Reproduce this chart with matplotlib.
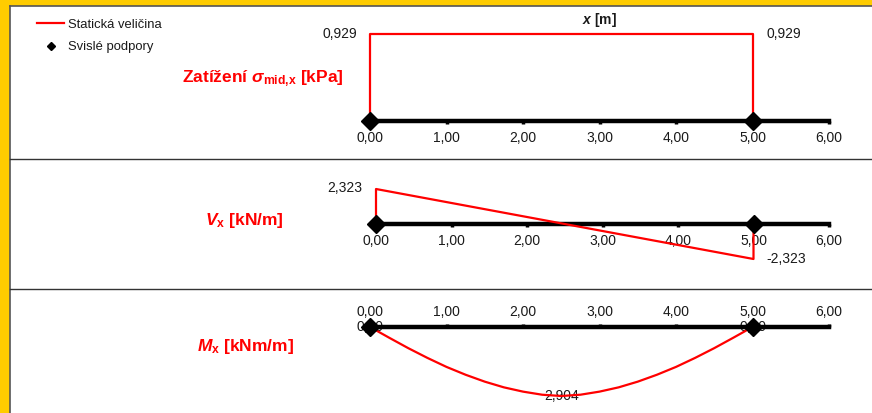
import matplotlib
matplotlib.use("Agg")
import matplotlib.pyplot as plt
from matplotlib.lines import Line2D
from matplotlib.patches import Rectangle
from matplotlib.ticker import FuncFormatter

plt.rcParams['font.family'] = ['Liberation Sans', 'DejaVu Sans']
plt.rcParams['mathtext.fontset'] = 'custom'
plt.rcParams['mathtext.rm'] = 'Liberation Sans:bold'
plt.rcParams['mathtext.it'] = 'Liberation Sans:italic:bold'
plt.rcParams['mathtext.bf'] = 'Liberation Sans:bold'

# ---------------- data ----------------
axis_ticks = [0, 1, 2, 3, 4, 5, 6]
supports_x = [0.0, 5.0]
support_y = [0.0, 0.0]

load_x = [0.0, 0.0, 5.0, 5.0]
load_y = [0.0, 0.929, 0.929, 0.0]

shear_x = [0.0, 0.0, 5.0, 5.0]
shear_y = [0.0, 2.323, -2.323, 0.0]

moment_x = [0.0, 0.25, 0.5, 0.75, 1.0, 1.25, 1.5, 1.75, 2.0, 2.25, 2.5,
            2.75, 3.0, 3.25, 3.5, 3.75, 4.0, 4.25, 4.5, 4.75, 5.0]
moment_y = [0.0, 0.45, 0.89, 1.30, 1.68, 2.01, 2.30, 2.54, 2.72, 2.85, 2.904,
            2.85, 2.72, 2.54, 2.30, 2.01, 1.68, 1.30, 0.89, 0.45, 0.0]

W, H = 872, 413
RED = '#FF0000'
TXT = '#1a1a1a'

fig = plt.figure(figsize=(W / 100, H / 100), dpi=100)
fig.patch.set_facecolor('white')


def fmt(v):
    return f"{v:.2f}".replace('.', ',')


def val(v):
    return f"{v:.3f}".replace('.', ',')


def panel(top, bot, x0px, x6px, y0px, yref_px, yref_val, ticks_top=False, pad=4):
    ax = fig.add_axes([0, 1 - bot / H, 1, (bot - top) / H])
    ax.patch.set_visible(False)
    sx = (x6px - x0px) / 6.0
    ax.set_xlim(-x0px / sx, (W - x0px) / sx)
    sy = (y0px - yref_px) / yref_val
    ax.set_ylim(-(bot - y0px) / sy, (y0px - top) / sy)
    for s in ax.spines.values():
        s.set_visible(False)
    ax.yaxis.set_visible(False)
    side = 'top' if ticks_top else 'bottom'
    sp = ax.spines[side]
    sp.set_visible(True)
    sp.set_position(('data', 0))
    sp.set_bounds(0, 6)
    sp.set_linewidth(3.2)
    sp.set_color('black')
    if ticks_top:
        ax.xaxis.tick_top()
    ax.set_xticks(axis_ticks)
    ax.xaxis.set_major_formatter(FuncFormatter(lambda v, p: fmt(v)))
    ax.tick_params(axis='x', direction='out', length=2.5, width=2.5,
                   color='black', labelsize=10, labelcolor=TXT, pad=pad)
    return ax


# ---- panel 1: load ----
ax1 = panel(6, 159, 370, 829, 121, 34, 0.929, pad=4.5)
l_load, = ax1.plot(load_x, load_y, color=RED, lw=1.6, zorder=3,
                   label='Statická veličina')
l_sup, = ax1.plot(supports_x, support_y, 'D', color='black', ms=9, zorder=4,
                  clip_on=False, label='Svislé podpory')
ax1.annotate(val(load_y[1]), (load_x[1], load_y[1]), xytext=(-9.5, 0),
             textcoords='offset points', ha='right', va='center',
             fontsize=10, color=TXT)
ax1.annotate(val(load_y[2]), (load_x[2], load_y[2]), xytext=(10, 0),
             textcoords='offset points', ha='left', va='center',
             fontsize=10, color=TXT)
ax1.text(3.0, 1.08, r"$x$ [m]", ha='center', va='center', fontsize=10,
         fontweight='bold', color=TXT)
fig.text(182 / W, 1 - 79 / H, r"Zatížení $\sigma_{\mathrm{mid{,}x}}$ [kPa]",
         ha='left', va='center', fontsize=12.5, fontweight='bold', color=RED)

leg = ax1.legend(handles=[l_load, l_sup], loc='upper left',
                 bbox_to_anchor=(37 / W, 1 - 18.5 / H),
                 bbox_transform=fig.transFigure, frameon=False,
                 fontsize=9.4, handlelength=2.1, handletextpad=0.3,
                 labelspacing=0.8, borderpad=0, borderaxespad=0)
for t in leg.get_texts():
    t.set_color(TXT)
leg.legend_handles[1].set_markersize(4)

# ---- panel 2: shear ----
ax2 = panel(159, 289, 376, 829, 224, 189, 2.323, pad=4.5)
ax2.plot(shear_x, shear_y, color=RED, lw=1.6, zorder=3)
ax2.plot(supports_x, support_y, 'D', color='black', ms=9, zorder=4, clip_on=False)
ax2.annotate(val(shear_y[1]), (shear_x[1], shear_y[1]), xytext=(-10, 1),
             textcoords='offset points', ha='right', va='center',
             fontsize=10, color=TXT)
ax2.annotate(val(shear_y[2]), (shear_x[2], shear_y[2]), xytext=(9.5, 0),
             textcoords='offset points', ha='left', va='center',
             fontsize=10, color=TXT)
fig.text(205 / W, 1 - 221 / H, r"$V_{\mathrm{x}}$ [kN/m]",
         ha='left', va='center', fontsize=12.5, fontweight='bold', color=RED)

# ---- panel 3: moment ----
ax3 = panel(289, 413, 370, 829, 327, 396, 2.904, ticks_top=True, pad=3.5)
ax3.plot(moment_x, moment_y, color=RED, lw=1.6, zorder=3)
ax3.plot(supports_x, support_y, 'D', color='black', ms=9, zorder=4, clip_on=False)
for i in (0, 10, 20):
    ax3.annotate(val(moment_y[i]) if i == 10 else fmt(moment_y[i]),
                 (moment_x[i], moment_y[i]), xytext=(0, 0),
                 textcoords='offset points', ha='center', va='center',
                 fontsize=10, color=TXT, zorder=2)
fig.text(197 / W, 1 - 347 / H, r"$M_{\mathrm{x}}$ [kNm/m]",
         ha='left', va='center', fontsize=12.5, fontweight='bold', color=RED)

# ---- frame decorations ----
fig.add_artist(Rectangle((0, 0), 9.5 / W, 1, transform=fig.transFigure,
                         facecolor='#FFCC00', edgecolor='none', zorder=10))
fig.add_artist(Rectangle((0, 1 - 5.5 / H), 1, 5.5 / H, transform=fig.transFigure,
                         facecolor='#FFCC00', edgecolor='none', zorder=10))
fig.add_artist(Line2D([10.3 / W, 10.3 / W], [0, 1 - 5.5 / H], transform=fig.transFigure,
                      color='#555555', lw=1.2, zorder=11))
fig.add_artist(Line2D([9.5 / W, 1], [1 - 6.3 / H, 1 - 6.3 / H], transform=fig.transFigure,
                      color='#555555', lw=1.2, zorder=11))
for ypx in (159.3, 288.5):
    fig.add_artist(Line2D([10 / W, 1], [1 - ypx / H, 1 - ypx / H],
                          transform=fig.transFigure, color='#333333', lw=1.0, zorder=11))

fig.savefig('out.png', dpi=100)
